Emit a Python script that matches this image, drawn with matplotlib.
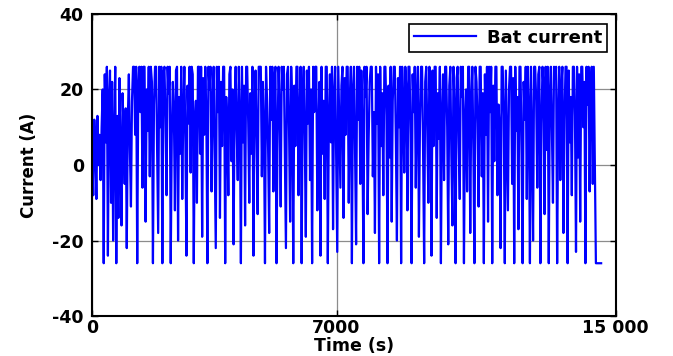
"""Corriente de la batería a lo largo del ensayo (estilo figura MATLAB)."""

import matplotlib
matplotlib.use("Agg")
import matplotlib.pyplot as plt
import numpy as np

# --- Datos (paso de 30 s) ----------------------------------------------------
paso = 30  # s
corriente = [
    3, -8, 12, 5, -9, 13, 0, 8, -4, 10, 20, -26, 24, 6, 26, -24, 18, 25, -10, 22,
    -20, 7, 26, -26, 13, -14, 23, 2, -16, 19, 9, -5, 15, -22, 12, 24, 4, -11, 17, 26,
    26, 8, 26, -26, 21, 26, 14, 26, -6, 26, 26, -15, 20, 9, 26, -3, 26, 22, -26, 16,
    26, 26, 5, -18, 26, 10, 26, -26, 24, 26, 12, -8, 26, 19, 26, -26, 8, 22, 14, -12,
    25, 26, -20, 18, 3, 26, -9, 15, 26, 6, -24, 21, 11, 26, -2, 26, 24, -26, 12, 17,
    -10, 26, 26, 3, 26, -19, 23, 8, 26, 13, -26, 26, 20, 26, -7, 16, 26, 2, -22, 26,
    14, 26, -14, 22, 5, 26, 26, -26, 18, 10, -8, 24, 26, 1, 20, -21, 15, 26, 9, -4,
    26, 13, -26, 26, 6, 21, -16, 26, 26, 11, -10, 19, 3, 26, -24, 14, 25, 7, -13, 26,
    26, 26, -3, 22, 10, -26, 26, 17, 4, -18, 26, 12, 26, -7, 23, 26, -26, 8, 26, 15,
    -11, 26, 20, 26, 2, -22, 24, 26, 9, -15, 26, 16, -26, 21, 5, 26, 26, -8, 13, 26,
    -26, 18, 26, 7, -19, 25, 11, 26, -4, 20, -26, 26, 14, 26, 26, -12, 9, 22, -24, 26,
    3, 17, -9, 26, 26, -26, 12, 24, 6, 26, -17, 19, 26, 1, -23, 26, 10, -6, 21, 26,
    -14, 23, 8, 26, 26, -10, 16, 26, -26, 20, 26, 4, -21, 26, 12, 26, -5, 25, 9, -26,
    26, 18, 26, -13, 7, 22, 26, 26, -3, 14, -18, 26, 11, 24, -26, 26, 5, 19, -8, 26,
    26, 13, -26, 21, 2, 26, -15, 17, 26, 26, 6, -20, 23, 10, 26, -26, 26, 15, -2, 26,
    20, -12, 26, 26, 8, -26, 24, 14, 26, -6, 18, 26, -19, 11, 26, 26, 3, -26, 22, 26,
    9, -10, 26, 16, -24, 25, 5, 26, 26, -14, 19, 7, 26, -26, 13, 24, -4, 26, 26, 10,
    -21, 21, 26, 2, -16, 26, 15, -26, 23, 26, 6, -9, 26, 18, 26, -26, 12, 20, -7, 26,
    26, -18, 17, 26, 4, -26, 26, 22, 11, -11, 26, 26, -3, 19, -26, 24, 8, 26, -15, 26,
    14, 26, -26, 21, 1, 26, 26, -8, 16, 10, -22, 26, 26, 13, -26, 25, 6, -12, 20, 26,
    26, -5, 23, -26, 26, 9, 18, -17, 26, 26, 3, -26, 22, 12, 26, -9, 26, 15, -26, 26,
    7, -20, 26, 26, 17, -6, 24, 26, -26, 11, 26, 20, -13, 26, 4, 26, -26, 19, 26, 9,
    -10, 26, 23, 26, -26, 14, 26, -4, 21, 26, -18, 12, 26, 26, -26, 25, 6, 18, -8, 26,
    26, 13, -23, 26, 2, 24, -15, 26, 26, 10, 22, -26, 26, 16, 26, -7, 20, 26, -5, 26,
]
# tramo final plano
t_final = [14430, 14580]
corriente_final = [-26, -26]

x_ticks = [0, 7000, 15000]
x_ticklabels = ["0", "7000", "15 000"]
y_ticks = [-40, -20, 0, 20, 40]

tiempo = np.concatenate([np.arange(len(corriente)) * paso, t_final])
valores = np.concatenate([corriente, corriente_final])

# --- Figura -------------------------------------------------------------------
plt.rcParams["font.family"] = ["DejaVu Sans"]
plt.rcParams["font.weight"] = "bold"
plt.rcParams["axes.unicode_minus"] = False

fig = plt.figure(figsize=(6.73, 3.56), dpi=100)
ax = fig.add_axes([0.137, 0.112, 0.778, 0.849])

ax.plot(tiempo, valores, color="#0000ff", linewidth=1.6, label="Bat current")

ax.set_xlim(0, 15000)
ax.set_ylim(-40, 40)
ax.set_xticks(x_ticks)
ax.set_xticklabels(x_ticklabels)
ax.set_yticks(y_ticks)
ax.tick_params(direction="in", length=4, width=1, top=True, right=True,
               labelsize=12.5)
ax.tick_params(axis="x", pad=2)
ax.tick_params(axis="y", pad=6)
for lab in ax.get_xticklabels() + ax.get_yticklabels():
    lab.set_fontweight("bold")

ax.grid(True, color="#8c8c8c", linewidth=0.9)
for lado in ax.spines.values():
    lado.set_linewidth(1.5)
    lado.set_color("black")

ax.set_xlabel("Time (s)", fontsize=12.5, fontweight="bold", labelpad=0)
ax.set_ylabel("Current (A)", fontsize=12, fontweight="bold", labelpad=10)

leg = ax.legend(loc="upper right", bbox_to_anchor=(0.99, 0.98), fancybox=False,
                framealpha=1, edgecolor="black", borderpad=0.28,
                handlelength=3.4, handletextpad=0.6, borderaxespad=0.2,
                prop={"weight": "bold", "size": 13})
leg.get_frame().set_linewidth(1.2)

fig.savefig("out.png", dpi=100)
